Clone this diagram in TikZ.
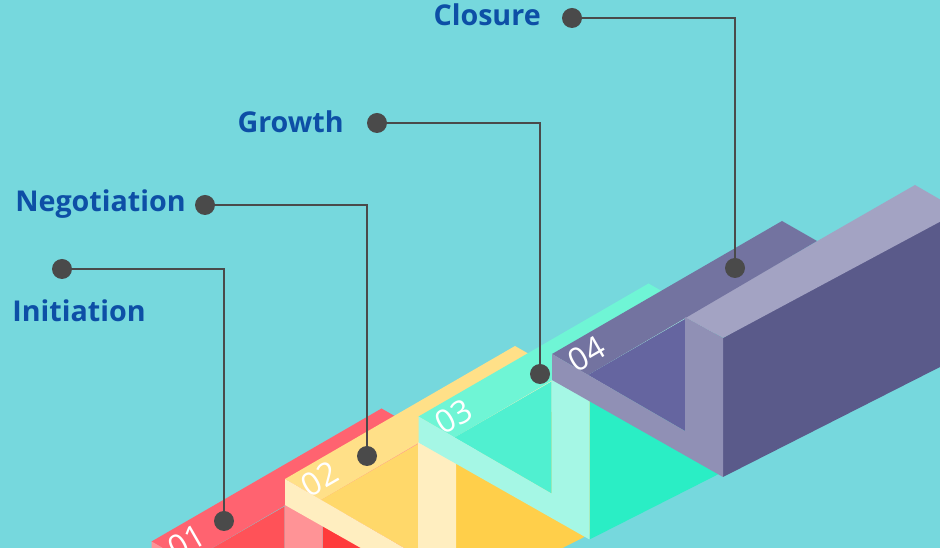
\documentclass[tikz,border=0pt]{standalone}
\usepackage{fontspec}
\setmainfont{Open Sans}
\begin{document}
\begin{tikzpicture}[x=0.75pt,y=-0.75pt,
  lbl/.style={font=\bfseries\fontsize{21.5}{22}\selectfont,text=ttl,inner sep=0},
  num/.style={font=\fontsize{24}{24}\selectfont,text=white,rotate=30,inner sep=0},
  lead/.style={draw=dk,line width=1.6pt},
  dotc/.style={circle,fill=dk,minimum size=15pt,inner sep=0}]
\definecolor{bg}{HTML}{76D8DD}\definecolor{dk}{HTML}{4A4A4A}\definecolor{ttl}{HTML}{0D4FA6}
\fill[bg] (0,0) rectangle (940,548);
\clip (0,0) rectangle (940,548);
\newcommand\blk[7]{%
 \definecolor{cA}{HTML}{#2}\definecolor{cB}{HTML}{#3}\definecolor{cC}{HTML}{#4}%
 \definecolor{cD}{HTML}{#5}\definecolor{cE}{HTML}{#6}%
 \begin{scope}[shift={(-133.5*#1,62.5*#1)}]
  \fill[cE] (723,338) -- (940,213) -- (940,367) -- (723,477) -- cycle;
  \fill[cD] (685,317) -- (915,185) -- (960,211) -- (723,338) -- cycle;
  \fill[cA] (552,354) -- (782,221) -- (817,241) -- (588,375) -- cycle;
  \fill[cB] (588,375) -- (685,319) -- (685,431) -- cycle;
  \fill[cC] (552,354) -- (685,431) -- (685,317) -- (723,338) -- (723,477) -- (552,380) -- cycle;
  \node[num] at (587,354) {#7};
 \end{scope}}
\blk{3}{FF6370}{FF5258}{FF9396}{FF9396}{FF3B3B}{01}
\blk{2}{FFE088}{FFD86A}{FFEEC0}{FFEEC0}{FFCF4A}{02}
\blk{1}{6FF5D5}{50F0D0}{A5F7E5}{A5F7E5}{2AEEC5}{03}
\blk{0}{7373A0}{6565A0}{9090B5}{A3A3C3}{5A5A8A}{04}
\node[dotc] (c1) at (572,18) {}; \node[dotc] (c2) at (735,268) {};
\node[dotc] (g1) at (377,123) {}; \node[dotc] (g2) at (540,374) {};
\node[dotc] (n1) at (205,205) {}; \node[dotc] (n2) at (367,456) {};
\node[dotc] (i1) at (62,269) {}; \node[dotc] (i2) at (224,521) {};
\draw[lead] (c1.center) -| (c2.center);
\draw[lead] (g1.center) -| (g2.center);
\draw[lead] (n1.center) -| (n2.center);
\draw[lead] (i1.center) -| (i2.center);
\node[lbl,anchor=east] (tc) at (541,15) {Closure};
\node[lbl,anchor=east] (tg) at (344,122) {Growth};
\node[lbl,anchor=east] (tn) at (186,204) {Negotiation};
\node[lbl,anchor=west] (ti) at (12,311) {Initiation};
\end{tikzpicture}
\end{document}
